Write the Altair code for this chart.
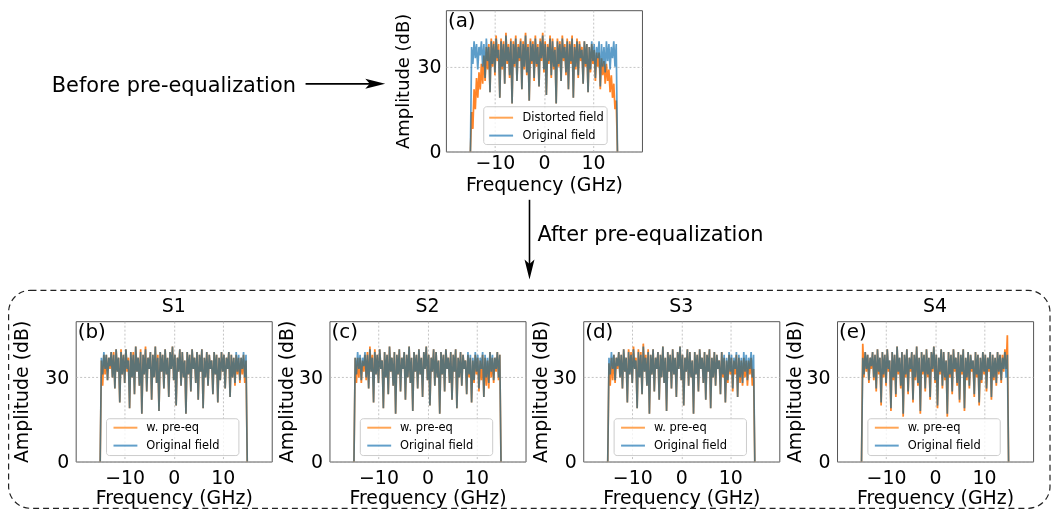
import altair as alt
import pandas as pd

# ---------------- data ----------------
# sample frequencies (GHz)
freq = [round(-15 + 0.25 * i, 2) for i in range(121)]

# original field spectrum (dB) - same in every panel
orig = [0,
        37, 31, 39, 33, 38, 29, 37, 34, 39, 30,
        38, 26, 40, 32, 37, 21, 39, 31, 38, 28,
        40, 33, 36, 19, 39, 30, 38, 24, 41, 32,
        37, 27, 39, 17, 38, 31, 40, 25, 37, 33,
        39, 22, 38, 30, 41, 28, 37, 18, 39, 32,
        38, 26, 40, 31, 37, 23, 39, 33, 41, 29,
        38, 20, 37, 32, 40, 27, 39, 30, 36, 17,
        39, 31, 38, 25, 40, 33, 37, 28, 39, 22,
        38, 32, 40, 19, 37, 30, 39, 27, 38, 33,
        36, 24, 39, 31, 38, 21, 37, 29, 39, 32,
        38, 26, 37, 33, 39, 23, 38, 30, 37, 28,
        39, 32, 38, 29, 37, 33, 39, 30, 38,
        0]

# (a) distorted field
dist_a = [0,
          14, 8, 22, 15, 26, 19, 28, 22, 31, 24,
          34, 25, 37, 29, 38, 21, 40, 30, 39, 27,
          41, 32, 38, 19, 40, 29, 39, 24, 42, 31,
          38, 26, 40, 17, 39, 30, 41, 25, 38, 32,
          40, 22, 39, 29, 42, 27, 38, 18, 40, 31,
          39, 25, 41, 30, 38, 23, 40, 32, 42, 28,
          39, 20, 38, 31, 41, 26, 40, 29, 37, 17,
          40, 30, 39, 25, 41, 32, 38, 27, 40, 22,
          39, 31, 41, 19, 38, 29, 40, 26, 39, 32,
          37, 24, 39, 30, 38, 21, 37, 28, 38, 31,
          36, 25, 35, 30, 35, 22, 33, 27, 32, 24,
          31, 25, 29, 21, 27, 19, 24, 15, 18,
          0]

# (b) S1 with pre-equalization
preeq_b = [0,
           36, 27, 38, 31, 38, 29, 37, 33, 39, 30,
           39, 26, 40, 32, 37, 21, 40, 31, 38, 28,
           40, 32, 37, 19, 39, 30, 39, 24, 41, 32,
           37, 27, 40, 17, 38, 31, 41, 25, 37, 33,
           39, 22, 38, 30, 41, 28, 38, 18, 39, 32,
           38, 26, 40, 31, 37, 23, 39, 33, 41, 29,
           38, 20, 37, 32, 40, 27, 39, 30, 36, 17,
           39, 31, 38, 25, 40, 33, 37, 28, 39, 22,
           38, 32, 40, 19, 37, 30, 39, 27, 38, 33,
           36, 24, 39, 31, 38, 21, 37, 29, 39, 32,
           38, 26, 37, 33, 39, 23, 38, 30, 37, 27,
           38, 31, 37, 28, 37, 31, 38, 28, 36,
           0]

# (c) S2 with pre-equalization
preeq_c = [0,
           37, 28, 37, 30, 37, 28, 36, 32, 38, 29,
           39, 26, 41, 32, 38, 21, 40, 31, 38, 28,
           40, 33, 36, 19, 39, 30, 38, 24, 41, 32,
           37, 27, 39, 17, 38, 31, 40, 25, 37, 33,
           39, 22, 38, 30, 41, 28, 37, 18, 39, 32,
           38, 26, 40, 31, 37, 23, 39, 33, 41, 29,
           38, 20, 37, 32, 40, 27, 39, 30, 36, 17,
           39, 31, 38, 25, 40, 33, 37, 28, 39, 22,
           38, 32, 40, 19, 37, 30, 39, 27, 38, 33,
           36, 24, 38, 30, 37, 21, 36, 28, 38, 31,
           37, 25, 36, 29, 38, 23, 37, 27, 36, 26,
           39, 30, 37, 28, 37, 32, 39, 29, 38,
           0]

# (d) S3 with pre-equalization
preeq_d = [0,
           35, 27, 37, 29, 38, 28, 37, 33, 39, 30,
           38, 26, 40, 32, 37, 21, 40, 31, 39, 28,
           41, 33, 37, 19, 40, 30, 39, 24, 42, 32,
           38, 27, 40, 17, 38, 31, 40, 25, 37, 33,
           39, 22, 38, 30, 41, 28, 37, 18, 39, 32,
           38, 26, 40, 31, 37, 23, 39, 33, 41, 29,
           38, 20, 37, 32, 40, 27, 39, 30, 36, 17,
           39, 31, 38, 25, 40, 33, 37, 28, 39, 22,
           38, 32, 40, 19, 37, 30, 39, 27, 38, 33,
           36, 24, 39, 30, 37, 21, 36, 28, 38, 31,
           37, 25, 36, 31, 38, 23, 37, 28, 36, 27,
           37, 30, 36, 27, 36, 31, 37, 27, 33,
           0]

# (e) S4 with pre-equalization
preeq_e = [0,
           42, 30, 39, 32, 38, 28, 37, 33, 39, 29,
           38, 25, 40, 31, 37, 20, 39, 30, 38, 27,
           40, 32, 36, 18, 39, 29, 38, 23, 41, 31,
           37, 26, 39, 16, 38, 30, 40, 24, 37, 32,
           39, 21, 38, 29, 41, 27, 37, 17, 39, 31,
           38, 25, 40, 30, 37, 22, 39, 32, 41, 28,
           38, 19, 37, 31, 40, 26, 39, 29, 36, 16,
           39, 30, 38, 24, 40, 32, 37, 27, 39, 21,
           38, 31, 40, 18, 37, 29, 39, 26, 38, 32,
           36, 23, 39, 30, 38, 20, 37, 28, 39, 31,
           38, 25, 37, 32, 39, 22, 38, 29, 37, 27,
           39, 31, 38, 28, 38, 32, 40, 33, 45,
           0]

x_ticks = [-10, 0, 10]
y_ticks = [0, 30]
panel_tags = ["(a)", "(b)", "(c)", "(d)", "(e)"]
panel_titles = ["S1", "S2", "S3", "S4"]

ORANGE = "#ff7f0e"
BLUE = "#1f77b4"
FONT = "DejaVu Sans"
SPACER_W = 372
PANEL_W = 197
GAP = 58

one = pd.DataFrame({"k": [0]})


def panel(tag, eq_vals, eq_label, title=None, w=PANEL_W, h=142, x_off=0,
          legend_box=(31, 164, 98, 135), legend_xy=(40, 97), label_offset=11,
          ylp=7, ytp=13, xlp=7, xtp=1, ytfs=19):
    df = pd.DataFrame({
        "freq": freq + freq,
        "amp": eq_vals + orig,
        "series": [eq_label] * len(freq) + ["Original field"] * len(freq),
    })
    color = alt.Color(
        "series:N",
        scale=alt.Scale(domain=[eq_label, "Original field"], range=[ORANGE, BLUE]),
        legend=alt.Legend(
            title=None, orient="none", legendX=legend_xy[0] + x_off, legendY=legend_xy[1],
            direction="vertical", symbolType="M-1.333,0H1.333", symbolSize=324,
            symbolStrokeWidth=2, symbolOpacity=0.7, labelFontSize=11.5,
            labelFont=FONT, labelColor="black", labelOffset=label_offset,
            rowPadding=2, padding=0),
    )
    xenc = alt.X("freq:Q", scale=alt.Scale(domain=[-20, 20], nice=False),
                 axis=alt.Axis(values=x_ticks, title="Frequency (GHz)",
                               labelPadding=xlp, titlePadding=xtp))
    yenc = alt.Y("amp:Q", scale=alt.Scale(domain=[0, 50], nice=False),
                 axis=alt.Axis(values=y_ticks, title="Amplitude (dB)",
                               labelPadding=ylp, titlePadding=ytp, titleFontSize=ytfs))
    base = alt.Chart(df)
    eq_only = base.transform_filter(alt.datum.series == eq_label)
    l1 = eq_only.mark_line(strokeWidth=1.7, opacity=0.85).encode(x=xenc, y=yenc, color=color)
    l2 = base.transform_filter(alt.datum.series == "Original field").mark_line(
        strokeWidth=1.7, opacity=0.72).encode(x=xenc, y=yenc, color=color)
    # second, translucent pass of the equalized trace (darkens the overlap like the reference)
    l3 = eq_only.mark_line(strokeWidth=1.7, opacity=0.2, blend="multiply").encode(
        x=xenc, y=yenc, color=color)
    box = alt.Chart(one).mark_rect(
        fill="white", fillOpacity=0.8, stroke="#cccccc", strokeWidth=1, cornerRadius=3
    ).encode(x=alt.value(legend_box[0]), x2=alt.value(legend_box[1]),
             y=alt.value(legend_box[2]), y2=alt.value(legend_box[3]))
    lab = alt.Chart(one).mark_text(
        text=tag, align="left", baseline="top", fontSize=20, font=FONT, color="black"
    ).encode(x=alt.value(2), y=alt.value(1))
    props = dict(width=w, height=h)
    if title is not None:
        props["title"] = alt.TitleParams(title, fontSize=19, font=FONT,
                                         fontWeight="normal", color="black", offset=4)
    return alt.layer(l1, l2, l3, box, lab).properties(**props)


# annotations (arrows, texts, dashed frame)
t_before = alt.Chart(one).mark_text(
    text="Before pre-equalization", align="left", baseline="alphabetic",
    fontSize=21, font=FONT, color="black").encode(x=alt.value(-24), y=alt.value(82))
r_before = alt.Chart(one).mark_rule(color="black", strokeWidth=1.6).encode(
    x=alt.value(231), x2=alt.value(303), y=alt.value(74), y2=alt.value(74))
h_before = alt.Chart(one).mark_point(
    shape="M1,0L-1,-0.5L-0.55,0L-1,0.5Z", filled=True, color="black",
    size=400, opacity=1, strokeWidth=0).encode(x=alt.value(301), y=alt.value(74))
t_after = alt.Chart(one).mark_text(
    text="After pre-equalization", align="left", baseline="alphabetic",
    fontSize=21, font=FONT, color="black").encode(x=alt.value(464), y=alt.value(232))
r_after = alt.Chart(one).mark_rule(color="black", strokeWidth=1.6).encode(
    x=alt.value(456), x2=alt.value(456), y=alt.value(190.5), y2=alt.value(263))
h_after = alt.Chart(one).mark_point(
    shape="M0,1L-0.5,-1L0,-0.55L0.5,-1Z", filled=True, color="black",
    size=400, opacity=1, strokeWidth=0).encode(x=alt.value(456), y=alt.value(260.5))
frame = alt.Chart(one).mark_rect(
    fillOpacity=0, fill="white", stroke="#222222", strokeWidth=1.2,
    strokeDash=[6, 4], cornerRadius=22).encode(
    x=alt.value(-67.4), x2=alt.value(979), y=alt.value(281.5), y2=alt.value(500.5))

spacer = alt.layer(t_before, r_before, h_before, t_after, r_after, h_after, frame).properties(
    width=SPACER_W, height=142, view=alt.ViewBackground(strokeOpacity=0))

# panel (a) legend lives in the row-1 group, so it is offset by the spacer width
pa = panel(panel_tags[0], dist_a, "Distorted field", None, h=142, x_off=SPACER_W,
           legend_box=(38, 162, 97, 135), legend_xy=(45.5, 98), label_offset=11.5,
           ylp=5, ytp=4, xlp=2, xtp=3, ytfs=18)
pb = panel(panel_tags[1], preeq_b, "w. pre-eq", panel_titles[0], h=141, ytp=13)
pc = panel(panel_tags[2], preeq_c, "w. pre-eq", panel_titles[1], h=141, ytp=2)
pd_ = panel(panel_tags[3], preeq_d, "w. pre-eq", panel_titles[2], h=141, ytp=2)
pe = panel(panel_tags[4], preeq_e, "w. pre-eq", panel_titles[3], h=141, ytp=2)

row1 = alt.hconcat(spacer, pa, spacing=0, bounds="flush")
row2 = alt.hconcat(pb, pc, pd_, pe, spacing=GAP, bounds="flush").resolve_scale(
    color="independent").resolve_legend(color="independent")

chart = alt.vconcat(row1, row2, spacing=312.5, bounds="flush").properties(
    padding={"left": 0, "top": 0, "right": 0, "bottom": 0}
).resolve_scale(color="independent").resolve_legend(color="independent").configure_view(
    stroke="#555555", strokeWidth=1
).configure_axis(
    grid=True, gridDash=[2, 2], gridColor="#b5b5b5", gridWidth=0.8,
    ticks=False, domain=False,
    labelFont=FONT, titleFont=FONT, labelFontSize=19, titleFontSize=19,
    titleFontWeight="normal", labelColor="black", titleColor="black"
)

chart.save("out.html", embed_options={"renderer": "svg", "actions": False})
